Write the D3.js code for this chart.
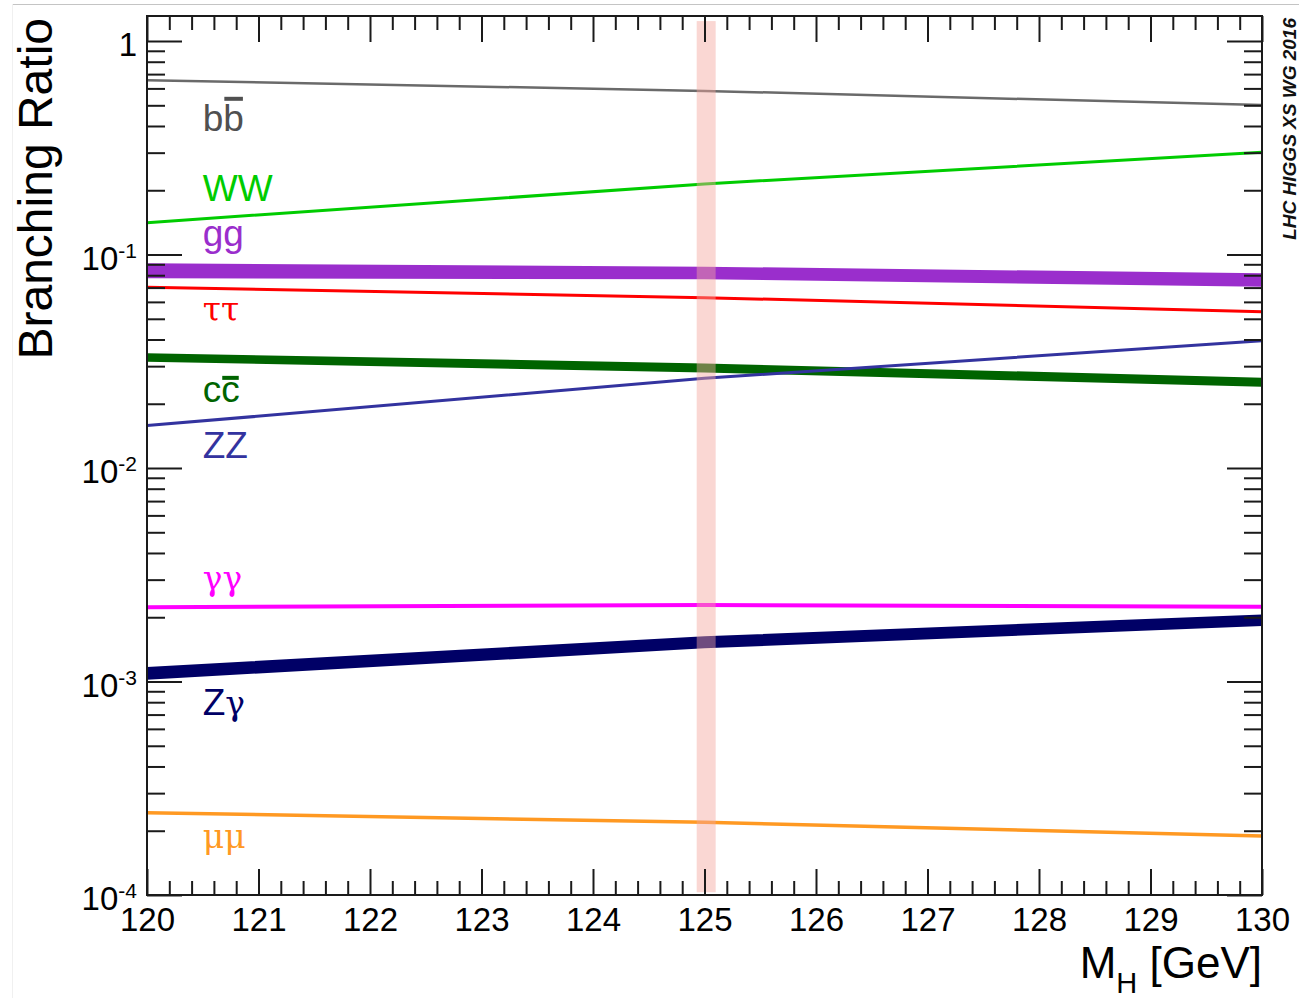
<!DOCTYPE html>
<html>
<head>
<meta charset="utf-8">
<script src="https://cdn.jsdelivr.net/npm/d3@7.9.0/dist/d3.min.js"></script>
<style>
  body { margin: 0; background: #fff; }
  svg { display: block; }
</style>
</head>
<body>
<svg id="chart" width="1299" height="998"></svg>
<script>
// Higgs branching ratios, M_H = 120, 125, 130 GeV
const masses = [120, 125, 130];

const brBB = [0.656, 0.584, 0.501];
const brWW = [0.141, 0.214, 0.301];
const brTauTau = [0.0702, 0.0628, 0.0540];
const brZZ = [0.0158, 0.0263, 0.0395];
const brGamGam = [0.00223, 0.00228, 0.00224];
const brMuMu = [0.000243, 0.000219, 0.000189];

// the thick ones are drawn as bands (low / high edge)
const brGGlo = [0.0774, 0.0766, 0.0707];
const brGGhi = [0.0910, 0.0877, 0.0817];
const brCClo = [0.0315, 0.0280, 0.0240];
const brCChi = [0.0345, 0.0309, 0.0265];
const brZGlo = [0.00102, 0.00143, 0.00182];
const brZGhi = [0.00117, 0.00163, 0.00206];

// measured mass band
const higgsBand = [124.93, 125.10];

// labels: text and the BR of their baseline (at M_H = 120.5)
const labelMass = 120.5;
const labelNames = ['bb', 'WW', 'gg', 'tautau', 'cc', 'ZZ', 'gamgam', 'Zgam', 'mumu'];
const labelBR = [0.379, 0.178, 0.1096, 0.0488, 0.0204, 0.01114, 0.00268, 0.000697, 0.000166];

const xMajor = d3.range(120, 130.001, 1);
const yMajor = [1e-4, 1e-3, 1e-2, 1e-1, 1];
const yMajorLabels = [['10', '-4'], ['10', '-3'], ['10', '-2'], ['10', '-1'], ['1', '']];

const svg = d3.select('#chart');

// screenshot border bits
svg.append('line').attr('x1', 12).attr('x2', 1299).attr('y1', 4.5).attr('y2', 4.5)
  .attr('stroke', '#c4c4c4').attr('stroke-width', 1.2);
svg.append('line').attr('x1', 12.5).attr('x2', 12.5).attr('y1', 4).attr('y2', 998)
  .attr('stroke', '#f0f0f0').attr('stroke-width', 1);

const x = d3.scaleLinear().domain([120, 130]).range([147, 1262]);
const y = d3.scaleLog().domain([1e-4, 1.31]).range([895, 16]);

svg.append('clipPath').attr('id', 'plotclip')
  .append('rect').attr('x', 147).attr('y', 16).attr('width', 1115).attr('height', 879);

const plot = svg.append('g').attr('clip-path', 'url(#plotclip)');

// bands
const bands = [
  {lo: brGGlo, hi: brGGhi, color: '#9a2ecc'},
  {lo: brCClo, hi: brCChi, color: '#006400'},
  {lo: brZGlo, hi: brZGhi, color: '#000066'}
];
const area = d3.area()
  .x(d => x(d.m))
  .y0(d => y(d.lo))
  .y1(d => y(d.hi));

bands.forEach(b => {
  const pts = masses.map((m, i) => ({m, lo: b.lo[i], hi: b.hi[i]}));
  plot.append('path')
    .datum(pts)
    .attr('fill', b.color)
    .attr('d', area);
});

// lines
const lines = [
  {vals: brBB, color: '#6a6a6a', width: 2.5},
  {vals: brWW, color: '#00cc00', width: 3},
  {vals: brTauTau, color: '#ff0000', width: 3},
  {vals: brZZ, color: '#33339f', width: 3},
  {vals: brGamGam, color: '#ff00ff', width: 4},
  {vals: brMuMu, color: '#ff9922', width: 3.5}
];
const line = d3.line()
  .x(d => x(d.m))
  .y(d => y(d.v));

lines.forEach(l => {
  plot.append('path')
    .datum(masses.map((m, i) => ({m, v: l.vals[i]})))
    .attr('fill', 'none')
    .attr('stroke', l.color)
    .attr('stroke-width', l.width)
    .attr('d', line);
});

// pink M_H band, on top and see-through
plot.append('rect')
  .attr('x', x(higgsBand[0]))
  .attr('width', x(higgsBand[1]) - x(higgsBand[0]))
  .attr('y', y(1.24))
  .attr('height', y(1.03e-4) - y(1.24))
  .attr('fill', '#f4a79e')
  .attr('opacity', 0.45);

// axes (ticks pointing inwards, on all four sides)
const tickColor = '#1a1a1a';
const xMinor = d3.range(120, 130.001, 0.2).filter(v => Math.abs(v - Math.round(v)) > 0.01);
const yMinor = [];
[1e-4, 1e-3, 1e-2, 1e-1, 1].forEach(d => {
  for (let k = 2; k <= 9; k++) if (k * d <= 1.31) yMinor.push(k * d);
});

function styleAxis(g) {
  g.select('.domain').remove();
  g.selectAll('.tick line').attr('stroke', tickColor).attr('stroke-width', 2);
}

const sans = "'Liberation Sans', Arial, Helvetica, sans-serif";
const serif = "'DejaVu Serif', 'Liberation Serif', serif";

svg.append('g').attr('transform', 'translate(0,895)')
  .call(d3.axisBottom(x).tickValues(xMajor).tickSize(-26).tickPadding(13).tickFormat(d3.format('d')))
  .call(styleAxis)
  .call(g => g.selectAll('text')
    .attr('font-family', sans)
    .attr('font-size', 33)
    .attr('fill', '#000'));
svg.append('g').attr('transform', 'translate(0,895)')
  .call(d3.axisBottom(x).tickValues(xMinor).tickSize(-14).tickFormat(''))
  .call(styleAxis);
svg.append('g').attr('transform', 'translate(0,16)')
  .call(d3.axisTop(x).tickValues(xMajor).tickSize(-26).tickFormat(''))
  .call(styleAxis);
svg.append('g').attr('transform', 'translate(0,16)')
  .call(d3.axisTop(x).tickValues(xMinor).tickSize(-14).tickFormat(''))
  .call(styleAxis);

svg.append('g').attr('transform', 'translate(147,0)')
  .call(d3.axisLeft(y).tickValues(yMajor).tickSize(-35).tickFormat(''))
  .call(styleAxis);
svg.append('g').attr('transform', 'translate(147,0)')
  .call(d3.axisLeft(y).tickValues(yMinor).tickSize(-18).tickFormat(''))
  .call(styleAxis);
svg.append('g').attr('transform', 'translate(1262,0)')
  .call(d3.axisRight(y).tickValues(yMajor).tickSize(-35).tickFormat(''))
  .call(styleAxis);
svg.append('g').attr('transform', 'translate(1262,0)')
  .call(d3.axisRight(y).tickValues(yMinor).tickSize(-18).tickFormat(''))
  .call(styleAxis);

// frame
svg.append('rect')
  .attr('x', 147).attr('y', 16).attr('width', 1115).attr('height', 879)
  .attr('fill', 'none').attr('stroke', tickColor).attr('stroke-width', 2);

// y tick labels with superscripts
yMajor.forEach((v, i) => {
  const t = svg.append('text')
    .attr('x', 137)
    .attr('y', y(v) + 15)
    .attr('text-anchor', 'end')
    .attr('font-family', sans)
    .attr('font-size', 33)
    .attr('fill', '#000');
  t.append('tspan').text(yMajorLabels[i][0]);
  if (yMajorLabels[i][1]) {
    t.append('tspan').attr('dy', -12).attr('font-size', 21).text(yMajorLabels[i][1]);
  }
});

// axis titles
svg.append('text')
  .attr('transform', 'translate(52,18) rotate(-90)')
  .attr('text-anchor', 'end')
  .attr('font-family', sans)
  .attr('font-size', 48)
  .attr('fill', '#000')
  .text('Branching Ratio');

const xt = svg.append('text')
  .attr('x', 1262)
  .attr('y', 978)
  .attr('text-anchor', 'end')
  .attr('font-family', sans)
  .attr('font-size', 44)
  .attr('fill', '#000');
xt.append('tspan').text('M');
xt.append('tspan').attr('dy', 15).attr('font-size', 29).text('H');
xt.append('tspan').attr('dy', -15).text(' [GeV]');

svg.append('text')
  .attr('transform', 'translate(1296,18) rotate(-90)')
  .attr('text-anchor', 'end')
  .attr('font-family', sans)
  .attr('font-size', 19)
  .attr('font-style', 'italic')
  .attr('font-weight', 'bold')
  .attr('fill', '#111')
  .text('LHC HIGGS XS WG 2016');

// curve labels
const labelStyle = {
  bb: {color: '#505050', parts: [['b', sans], ['b', sans]], bar: 0.87},
  WW: {color: '#00cc00', parts: [['WW', sans]]},
  gg: {color: '#9a2ecc', parts: [['gg', sans]]},
  tautau: {color: '#ff0000', parts: [['ττ', serif]]},
  cc: {color: '#006400', parts: [['c', sans], ['c', sans]], bar: 0.65},
  ZZ: {color: '#33339f', parts: [['ZZ', sans]]},
  gamgam: {color: '#ff00ff', parts: [['γγ', serif]]},
  Zgam: {color: '#000066', parts: [['Z', sans], ['γ', serif]]},
  mumu: {color: '#ff9922', parts: [['μμ', serif]]}
};

labelNames.forEach((name, i) => {
  const st = labelStyle[name];
  const bx = x(labelMass), by = y(labelBR[i]);
  const t = svg.append('text')
    .attr('x', bx)
    .attr('y', by)
    .attr('font-size', 37)
    .attr('fill', st.color);
  st.parts.forEach(p => {
    t.append('tspan')
      .attr('font-family', p[1])
      .attr('font-size', p[1] === serif ? 33 : 37)
      .text(p[0]);
  });
  if (st.bar) {
    // bar over the antiparticle letter
    const node = t.node();
    const x0 = node.getStartPositionOfChar(1).x;
    const x1 = node.getEndPositionOfChar(1).x;
    svg.append('rect')
      .attr('x', x0 + 1)
      .attr('width', x1 - x0 - 2)
      .attr('y', by - st.bar * 37 - 2)
      .attr('height', 4)
      .attr('fill', st.color);
  }
});
</script>
</body>
</html>
